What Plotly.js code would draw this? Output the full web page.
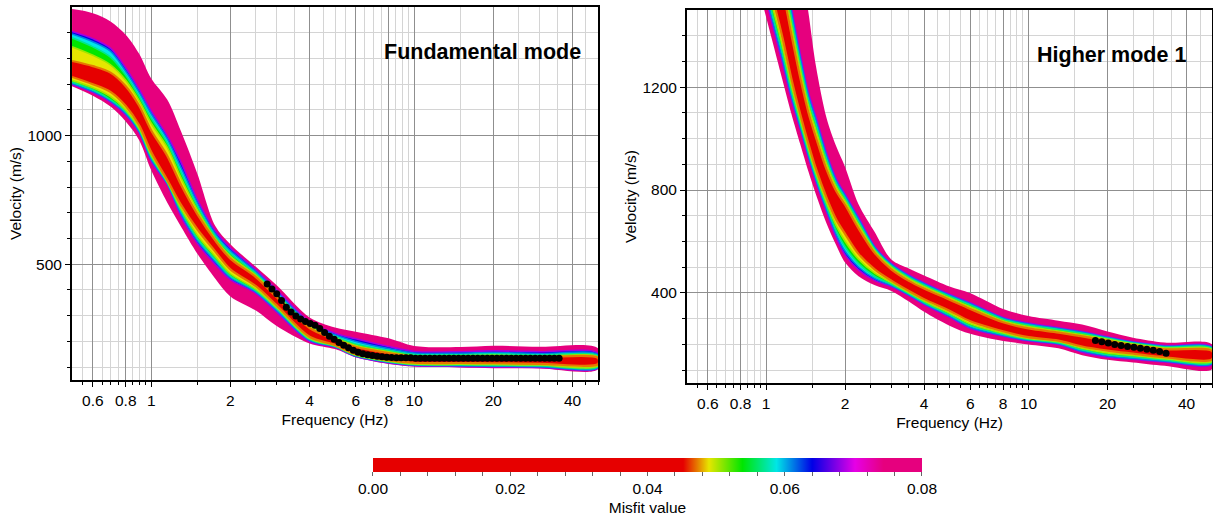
<!DOCTYPE html>
<html>
<head>
<meta charset="utf-8">
<script src="https://cdn.plot.ly/plotly-3.0.1.min.js"></script>
<style>html,body{margin:0;padding:0;background:#fff}#chart{width:1213px;height:525px}</style>
</head>
<body>
<div id="chart"></div>
<script>
// ---------------- DATA ----------------
// Fundamental mode: envelope of models per misfit level (velocity in m/s)
const FUND_FREQ = [0.5, 0.6, 0.7, 0.8, 0.9, 1.0, 1.15, 1.3, 1.5, 1.75, 2, 2.5, 3, 4, 5, 6, 8, 10, 15, 20, 30, 50];
const FUND_PINK_TOP   = [1492,1476,1444,1392,1318,1222,1140,1015,850,650,578,490,418,293,254,238,212,182,178,183,179,173];
const FUND_BLUE_TOP   = [1405,1377,1340,1263,1180,1096,1000,895,750,630,563,478,400,276,232,210,180,161,160,163,160,154];
const FUND_CYAN_TOP   = [1395,1365,1328,1250,1168,1085,988,875,738,620,553,471,392,270,226,200,172,155,154,157,152,148];
const FUND_GREEN_TOP  = [1380,1345,1305,1235,1152,1068,972,855,724,610,542,464,385,264,219,190,165,149,148,151,147,143];
const FUND_YELLOW_TOP = [1345,1312,1275,1215,1136,1048,955,835,710,600,532,457,378,258,213,184,160,144,144,146,142,139];
const FUND_RED_TOP    = [1290,1270,1245,1192,1116,1020,922,808,694,593,522,450,372,252,208,178,155,140,140,142,139,136];
const FUND_RED_BOT    = [1228,1200,1170,1115,1040,936,828,730,635,550,480,415,340,218,186,150,127,117,116,115,113,112];
const FUND_YELLOW_BOT = [1215,1186,1152,1100,1028,924,822,715,612,530,463,403,332,212,183,147,123,112,111,110,108,105];
const FUND_GREEN_BOT  = [1208,1178,1140,1093,1022,916,818,705,600,520,455,397,327,208,181,145,121,110,108,107,105,102];
const FUND_CYAN_BOT   = [1203,1172,1135,1086,1016,908,814,695,590,510,448,392,320,205,179,143,119,108,106,104,102,99];
const FUND_BLUE_BOT   = [1199,1168,1130,1080,1012,900,810,685,580,500,440,387,314,200,177,141,116,106,103,101,99,97];
const FUND_PINK_BOT   = [1192,1155,1113,1055,982,865,740,645,540,445,375,320,260,192,170,138,112,102,99,96,95,92];

// Fundamental mode observed dispersion points
const FUND_OBS_FREQ = [2.76,2.878,3.001,3.13,3.264,3.403,3.549,3.701,3.859,4.024,4.197,4.376,4.564,4.759,4.962,5.175,5.396,5.627,5.868,6.119,6.381,6.654,6.939,7.236,7.545,7.868,8.205,8.556,8.922,9.304,9.702,10.12,10.55,11.0,11.47,11.96,12.48,13.01,13.57,14.15,14.75,15.38,16.04,16.73,17.44,18.19,18.97,19.78,20.63,21.51,22.43,23.39,24.39,25.43,26.52,27.66,28.84,30.07,31.36,32.7,34.1,35.56];
const FUND_OBS_VEL  = [423,404,385,359,333,314,299,287,277,270,263,250,235,220,208,196,185,175,166,158,152,148,145,142,140,138,137,136,136,136,136,135,135,135,135,135,135,135,135,135,135,135,135,135,135,135,135,135,135,135,135,135,135,135,135,135,135,135,135,135,135,135];

// Higher mode 1: envelope of models per misfit level
const HM_FREQ = [0.95, 1.05, 1.15, 1.25, 1.35, 1.45, 1.55, 1.7, 1.85, 2.0, 2.25, 2.6, 3.0, 3.5, 4, 5, 6, 8, 10, 13, 16, 20, 25, 33, 50];
const HM_PINK_TOP   = [2500,2300,2100,1900,1700,1490,1280,1080,970,890,745,635,530,495,468,425,399,338,310,292,277,250,226,207,200];
const HM_BLUE_TOP   = [2100,1900,1700,1510,1330,1180,1085,945,845,785,695,580,515,470,440,395,362,305,283,265,250,230,210,196,190];
const HM_CYAN_TOP   = [2073,1878,1682,1492,1314,1167,1071,934,836,778,687,576,511,466,436,391,358,302,279,262,247,227,208,193,187];
const HM_GREEN_TOP  = [2040,1852,1659,1469,1294,1150,1054,920,826,769,678,570,506,461,431,387,353,298,275,258,243,224,205,190,184];
const HM_YELLOW_TOP = [1998,1818,1630,1440,1269,1129,1032,903,813,758,666,563,500,455,425,381,346,292,269,252,237,220,202,186,180];
const HM_RED_TOP    = [1944,1775,1593,1403,1236,1102,1004,880,796,743,651,554,492,447,417,374,338,286,262,246,231,214,197,181,174];
const HM_RED_BOT    = [1723,1562,1401,1231,1095,980,882,770,685,630,552,491,448,408,376,331,290,251,228,215,192,176,164,150,142];
const HM_YELLOW_BOT = [1694,1525,1366,1203,1074,961,864,751,661,601,531,476,440,402,369,322,280,244,223,210,185,167,157,144,135];
const HM_GREEN_BOT  = [1672,1496,1339,1181,1058,946,850,736,642,579,514,464,434,397,363,315,273,239,219,206,179,160,151,139,130];
const HM_CYAN_BOT   = [1654,1473,1318,1164,1045,934,839,724,627,562,501,455,429,393,359,310,267,235,216,203,174,155,146,135,126];
const HM_BLUE_BOT   = [1640,1455,1300,1150,1035,925,830,715,615,548,490,448,425,390,355,305,262,232,213,200,170,150,142,132,122];
const HM_PINK_BOT   = [1560,1390,1235,1095,978,872,782,670,585,518,465,430,408,367,327,273,241,213,200,185,158,140,130,117,104];

// Higher mode observed points
const HM_OBS_FREQ = [17.98,19.02,20.12,21.29,22.52,23.83,25.21,26.67,28.21,29.85,31.57,33.4];
const HM_OBS_VEL  = [215,210,205,200,196,192,189,185,181,177,172,166];

// Misfit value of each drawn level (outer to inner)
const LEVEL_MISFIT = [0.078, 0.064, 0.058, 0.054, 0.049, 0.030];

// Tick labels
const X_TICKS = [0.6, 0.8, 1, 2, 4, 6, 8, 10, 20, 40];
const X_TICK_TEXT = ['0.6', '0.8', '1', '2', '4', '6', '8', '10', '20', '40'];
const X_MINOR = [0.55,0.65,0.7,0.75,0.85,0.9,0.95,1.5,2.5,3,3.5,4.5,5,5.5,6.5,7,7.5,8.5,9,9.5,15,25,30,35,45,50];
const Y1_TICKS = [500, 1000];
const Y1_MINOR = [100,200,300,400,600,700,800,900,1100,1200,1300,1400];
const Y2_TICKS = [400, 800, 1200];
const Y2_MINOR = [100,200,300,500,600,700,900,1000,1100,1300,1400];
const CB_TICKS = [0,0.004,0.008,0.012,0.016,0.02,0.024,0.028,0.032,0.036,0.04,0.044,0.048,0.052,0.056,0.06,0.064,0.068,0.072,0.076,0.08];
const CB_LABELS = {0:'0.00', 5:'0.02', 10:'0.04', 15:'0.06', 20:'0.08'};

// ---------------- STYLE ----------------
const LEVEL_FILL = ['#e6007e', '#0000e6', '#00e6e6', '#00e600', '#e6e600', '#e60000'];
const LEVEL_EDGE = ['#e6007e', '#a000e6', '#0080e6', '#00e68a', '#a0e600', '#e67800'];
const LEVEL_EDGE_W = [0, 1.6, 1.6, 1.6, 1.6, 2.2];
const COLORSCALE = [
  [0, '#e60000'], [0.565, '#e60000'], [0.59, '#e67800'], [0.612, '#e6e600'],
  [0.673, '#00e600'], [0.735, '#00e6e6'], [0.80, '#0000e6'], [0.878, '#e600e6'],
  [0.93, '#e6007e'], [1, '#e6007e']
];
const FONT = 'Liberation Sans, Arial, Helvetica, sans-serif';

// ---------------- BUILD ----------------
function bandTraces(freq, levels, xa, ya) {
  return levels.map((lv, i) => ({
    type: 'scatter', mode: 'lines', xaxis: xa, yaxis: ya,
    x: freq.concat(freq.slice().reverse()),
    y: lv[0].concat(lv[1].slice().reverse()),
    fill: 'toself', fillcolor: LEVEL_FILL[i],
    line: {color: LEVEL_EDGE[i], width: LEVEL_EDGE_W[i], shape: 'spline', smoothing: 0.9},
    hoverinfo: 'skip', showlegend: false
  }));
}

const fundLevels = [
  [FUND_PINK_TOP, FUND_PINK_BOT], [FUND_BLUE_TOP, FUND_BLUE_BOT], [FUND_CYAN_TOP, FUND_CYAN_BOT],
  [FUND_GREEN_TOP, FUND_GREEN_BOT], [FUND_YELLOW_TOP, FUND_YELLOW_BOT], [FUND_RED_TOP, FUND_RED_BOT]
];
const hmLevels = [
  [HM_PINK_TOP, HM_PINK_BOT], [HM_BLUE_TOP, HM_BLUE_BOT], [HM_CYAN_TOP, HM_CYAN_BOT],
  [HM_GREEN_TOP, HM_GREEN_BOT], [HM_YELLOW_TOP, HM_YELLOW_BOT], [HM_RED_TOP, HM_RED_BOT]
];

const traces = [];
traces.push(...bandTraces(FUND_FREQ, fundLevels, 'x', 'y'));
traces.push({
  type: 'scatter', mode: 'lines+markers', xaxis: 'x', yaxis: 'y',
  x: FUND_OBS_FREQ, y: FUND_OBS_VEL,
  line: {color: '#000', width: 1.5}, marker: {color: '#000', size: 7},
  hoverinfo: 'x+y', showlegend: false
});
traces.push(...bandTraces(HM_FREQ, hmLevels, 'x2', 'y2'));
traces.push({
  type: 'scatter', mode: 'lines+markers', xaxis: 'x2', yaxis: 'y2',
  x: HM_OBS_FREQ, y: HM_OBS_VEL,
  line: {color: '#000', width: 1.5}, marker: {color: '#000', size: 7},
  hoverinfo: 'x+y', showlegend: false
});
// colour scale carrier (one invisible point per misfit level)
traces.push({
  type: 'scatter', mode: 'markers', xaxis: 'x', yaxis: 'y',
  x: LEVEL_MISFIT.map(() => FUND_FREQ[FUND_FREQ.length - 1]),
  y: fundLevels.map(l => l[0][l[0].length - 1]),
  hoverinfo: 'skip', showlegend: false,
  marker: {
    color: LEVEL_MISFIT, cmin: 0, cmax: 0.08, colorscale: COLORSCALE, opacity: 0, size: 1,
    showscale: true,
    colorbar: {
      orientation: 'h', x: 0.5338, xanchor: 'center', y: 0.128, yanchor: 'top',
      len: 0.4526, lenmode: 'fraction', thickness: 14, thicknessmode: 'pixels',
      outlinewidth: 0, xpad: 0, ypad: 0,
      tickmode: 'array', tickvals: CB_TICKS, ticktext: CB_TICKS.map((v, i) => CB_LABELS[i] || ''),
      ticks: 'outside', ticklen: 4, tickcolor: '#666', tickwidth: 1,
      tickfont: {family: FONT, size: 15.5, color: '#000'},
      title: {text: 'Misfit value', side: 'bottom', font: {family: FONT, size: 15.5, color: '#000'}}
    }
  }
});

function xAxis(domain, anchor) {
  return {
    type: 'log', domain: domain, anchor: anchor,
    range: [Math.log10(0.5), Math.log10(50)],
    tickmode: 'array', tickvals: X_TICKS, ticktext: X_TICK_TEXT,
    ticks: 'outside', ticklen: 5, tickcolor: '#000', tickwidth: 1,
    showgrid: true, gridcolor: '#8f8f8f', gridwidth: 1,
    minor: {tickmode: 'array', tickvals: X_MINOR, ticks: 'outside', ticklen: 3, tickcolor: '#000',
            showgrid: true, gridcolor: '#d4d4d4', gridwidth: 1},
    showline: true, mirror: true, linecolor: '#000', linewidth: 2, zeroline: false,
    tickfont: {family: FONT, size: 15.5, color: '#000'},
    title: {text: 'Frequency (Hz)', standoff: 7, font: {family: FONT, size: 15.5, color: '#000'}},
    automargin: false, fixedrange: true
  };
}
function yAxis(domain, anchor, ticks, minor) {
  return {
    domain: domain, anchor: anchor, range: [50, 1500],
    tickmode: 'array', tickvals: ticks,
    ticks: 'outside', ticklen: 5, tickcolor: '#000', tickwidth: 1,
    showgrid: true, gridcolor: '#8f8f8f', gridwidth: 1,
    minor: {tickmode: 'array', tickvals: minor, ticks: 'outside', ticklen: 3, tickcolor: '#000',
            showgrid: true, gridcolor: '#d4d4d4', gridwidth: 1},
    showline: true, mirror: true, linecolor: '#000', linewidth: 2, zeroline: false,
    tickfont: {family: FONT, size: 15.5, color: '#000'},
    title: {text: 'Velocity (m/s)', standoff: 2, font: {family: FONT, size: 15.5, color: '#000'}},
    automargin: false, fixedrange: true
  };
}

const layout = {
  width: 1213, height: 525,
  margin: {l: 0, r: 0, t: 0, b: 0},
  paper_bgcolor: '#fff', plot_bgcolor: '#fff',
  showlegend: false,
  font: {family: FONT, size: 15.5, color: '#000'},
  xaxis: xAxis([0.0594, 0.4930], 'y'),
  yaxis: yAxis([0.2762, 0.9867], 'x', Y1_TICKS, Y1_MINOR),
  xaxis2: xAxis([0.5664, 0.9992], 'y2'),
  yaxis2: yAxis([0.2705, 0.9810], 'x2', Y2_TICKS, Y2_MINOR),
  annotations: [
    {text: '<b>Fundamental mode</b>', xref: 'paper', yref: 'paper', x: 0.4806, y: 0.901,
     xanchor: 'right', yanchor: 'middle', showarrow: false, font: {family: FONT, size: 21.5, color: '#000'}},
    {text: '<b>Higher mode 1</b>', xref: 'paper', yref: 'paper', x: 0.9794, y: 0.896,
     xanchor: 'right', yanchor: 'middle', showarrow: false, font: {family: FONT, size: 21.5, color: '#000'}}
  ]
};

Plotly.newPlot('chart', traces, layout, {displayModeBar: false, staticPlot: true});
</script>
</body>
</html>
